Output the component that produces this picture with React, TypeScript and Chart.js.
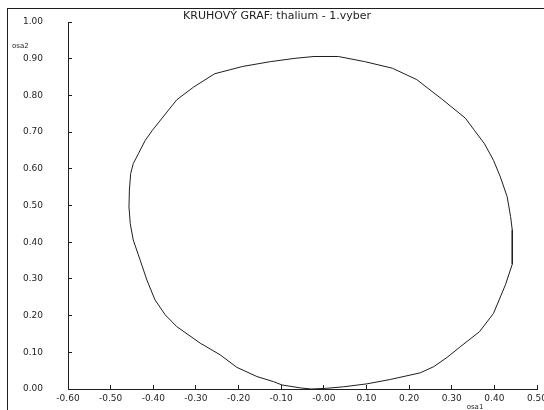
import React, { useEffect, useRef } from "react";
import { Chart, registerables } from "chart.js";

Chart.register(...registerables);

const TITLE = "KRUHOVÝ GRAF: thalium - 1.vyber";
const X_TITLE = "osa1";
const Y_TITLE = "osa2";

const X_MIN = -0.6;
const X_MAX = 0.5;
const X_STEP = 0.1;
const Y_MIN = 0;
const Y_MAX = 1;
const Y_STEP = 0.1;

const X_TICK_LABELS = ["-0.60", "-0.50", "-0.40", "-0.30", "-0.20", "-0.10", "-0.00", "0.10", "0.20", "0.30", "0.40", "0.50"];
const Y_TICK_LABELS = ["0.00", "0.10", "0.20", "0.30", "0.40", "0.50", "0.60", "0.70", "0.80", "0.90", "1.00"];

// outline of the "circle" (osa1, osa2), traced around the curve
const osa1 = [
  -0.030, -0.055, -0.098, -0.118, -0.157, -0.204, -0.243, -0.290, -0.345, -0.372,
  -0.396, -0.415, -0.431, -0.447, -0.454, -0.457, -0.456, -0.453, -0.447, -0.435,
  -0.419, -0.402, -0.345, -0.305, -0.256, -0.190, -0.125, -0.068, -0.023, 0.034,
  0.096, 0.161, 0.218, 0.279, 0.332, 0.353, 0.377, 0.398, 0.414, 0.430,
  0.438, 0.442, 0.442, 0.442, 0.426, 0.398, 0.365, 0.320, 0.289, 0.258,
  0.226, 0.195, 0.156, 0.101, 0.046, 0.007, -0.030,
];
const osa2 = [
  0.000, 0.003, 0.011, 0.020, 0.034, 0.059, 0.093, 0.125, 0.170, 0.202,
  0.243, 0.297, 0.352, 0.406, 0.451, 0.496, 0.542, 0.587, 0.614, 0.641,
  0.677, 0.705, 0.788, 0.823, 0.859, 0.879, 0.892, 0.901, 0.906, 0.906,
  0.892, 0.874, 0.843, 0.788, 0.738, 0.705, 0.668, 0.623, 0.578, 0.524,
  0.470, 0.433, 0.379, 0.340, 0.284, 0.206, 0.156, 0.115, 0.086, 0.061,
  0.044, 0.036, 0.026, 0.014, 0.006, 0.002, 0.000,
];

const INK = "#1e1e1e";
const FONT = "'DejaVu Sans', sans-serif";

const decorPlugin = {
  id: "decor",
  afterDraw(chart: any) {
    const ctx = chart.ctx as CanvasRenderingContext2D;
    ctx.save();
    ctx.fillStyle = INK;
    // window frame (top and left)
    ctx.fillRect(7, 8, chart.width - 7, 1);
    ctx.fillRect(7, 8, 1, chart.height - 8);
    // title
    ctx.font = `11px ${FONT}`;
    ctx.textAlign = "center";
    ctx.textBaseline = "middle";
    ctx.fillText(TITLE, 277, 16);
    // axis names
    ctx.font = `7px ${FONT}`;
    ctx.textAlign = "left";
    ctx.fillText(Y_TITLE, 12, 46);
    ctx.textAlign = "center";
    ctx.fillText(X_TITLE, 475, 407);
    ctx.restore();
  },
};

export default function App() {
  const ref = useRef<HTMLCanvasElement | null>(null);

  useEffect(() => {
    if (!ref.current) return;
    const points = osa1.map((x, i) => ({ x, y: osa2[i] }));
    const chart = new Chart(ref.current, {
      type: "scatter",
      data: {
        datasets: [
          {
            data: points,
            showLine: true,
            borderColor: INK,
            borderWidth: 1,
            pointRadius: 0,
            pointHoverRadius: 0,
            tension: 0,
            fill: false,
          },
        ],
      },
      options: {
        responsive: false,
        animation: false,
        devicePixelRatio: 1,
        layout: { padding: { top: 22, right: 7, bottom: 0, left: 0 } },
        plugins: {
          legend: { display: false },
          title: { display: false },
          tooltip: { enabled: false },
        },
        scales: {
          x: {
            type: "linear",
            min: X_MIN,
            max: X_MAX,
            ticks: {
              stepSize: X_STEP,
              autoSkip: false,
              maxRotation: 0,
              padding: 8,
              color: INK,
              font: { family: FONT, size: 9 },
              callback: (v: any) => X_TICK_LABELS[Math.round((Number(v) - X_MIN) / X_STEP)] ?? "",
            },
            grid: {
              display: true,
              drawOnChartArea: false,
              drawTicks: true,
              tickLength: -4,
              color: INK,
              lineWidth: 1,
            },
            border: { display: true, color: INK, width: 1 },
            afterFit: (s: any) => {
              s.height = 21;
              s.paddingLeft = 0;
              s.paddingRight = 0;
            },
          },
          y: {
            type: "linear",
            min: Y_MIN,
            max: Y_MAX,
            ticks: {
              stepSize: Y_STEP,
              autoSkip: false,
              padding: 29,
              color: INK,
              font: { family: FONT, size: 9 },
              callback: (v: any) => Y_TICK_LABELS[Math.round((Number(v) - Y_MIN) / Y_STEP)] ?? "",
            },
            grid: {
              display: true,
              drawOnChartArea: false,
              drawTicks: true,
              tickLength: -4,
              color: INK,
              lineWidth: 1,
            },
            border: { display: true, color: INK, width: 1 },
            afterFit: (s: any) => {
              s.width = 68;
              s.paddingTop = 0;
              s.paddingBottom = 0;
            },
          },
        },
      },
      plugins: [decorPlugin],
    } as any);
    return () => chart.destroy();
  }, []);

  return (
    <div style={{ position: "fixed", left: 0, top: 0, width: 544, height: 410, background: "#fff" }}>
      <canvas ref={ref} width={544} height={410} style={{ display: "block" }} />
    </div>
  );
}
